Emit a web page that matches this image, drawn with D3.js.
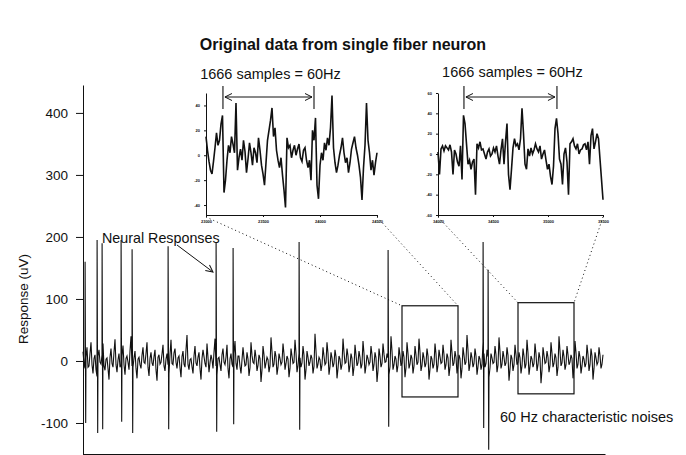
<!DOCTYPE html>
<html>
<head>
<meta charset="utf-8">
<script src="https://cdn.jsdelivr.net/npm/d3@7"></script>
<style>
body { margin: 0; background: #fff; }
text { font-family: "Liberation Sans", Arial, sans-serif; fill: #111; }
</style>
</head>
<body>
<script>

// background noise of the recording (uV): even samples ...
var noise = [
 15,-12,22,-8,30,-20,10,-25,18,-5,28,-15,5,-30,20,-10,35,-18,12,-6,
 25,-22,8,-14,40,-10,16,-28,6,-12,22,-4,30,-24,14,-8,18,-32,10,-2,
 26,-16,12,-20,34,-6,20,-12,8,-26,16,-10,42,-14,4,-20,24,-8,14,-30,
 18,-4,28,-18,10,-12,36,-22,6,-16,20,-6,26,-28,12,-10,32,-14,8,-20,
 22,-8,14,-24,30,-2,18,-16,10,-34,24,-12,6,-18,38,-10,16,-22,12,-6,
 28,-14,8,-26,20,-4,34,-18,12,-10,24,-30,16,-8,10,-20,44,-12,6,-16,
 22,-6,30,-22,14,-10,18,-28,8,-14,36,-4,20,-18,12,-24,26,-8,16,-12,
 32,-20,10,-6,24,-16,14,-34,20,-10,28,-2,12,-22,40,-14,8,-18,22,-8,
 16,-26,30,-12,10,-20,24,-6,36,-16,14,-10,20,-30,8,-12,28,-18,18,-4,
 26,-14,12,-24,34,-8,16,-20,10,-28,22,-6,42,-16,14,-10,20,-22,8,-14,
 30,-10,18,-26,12,-4,24,-18,38,-12,16,-8,22,-32,10,-16,26,-6,14,-20,
 20,-12,34,-22,8,-10,28,-16,14,-36,22,-4,16,-18,30,-10,12,-24,40,-8,
 18,-14,24,-6,10,-28,32,-12,16,-20,8,-10,26,-16,20,-30,14,-6,22,-12,10
];
// ... and odd samples
var noiseOdd = [
 -4,6,-10,12,-6,4,-14,8,-2,10,-8,3,-12,6,-4,14,-6,2,-10,8,
 -6,4,-2,16,-8,5,-12,3,-6,9,-2,12,-10,4,-3,7,-14,6,-5,11,
 -8,3,-6,10,-4,13,-2,5,-11,7,-5,18,-6,2,-9,8,-3,6,-12,4,
 7,-10,5,-3,2,14,-8,4,-6,10,-2,6,-12,3,-5,12,-4,8,-9,2,
 5,-6,3,-11,9,-4,6,-7,4,-14,10,-3,2,-8,15,-5,7,-10,4,-2,
 11,-4,3,-12,8,-2,13,-7,5,-3,9,-14,6,-2,4,-9,16,-5,2,-6,
 8,-3,12,-9,5,-4,7,-12,3,-6,14,-2,8,-7,4,-10,10,-3,6,-5,
 12,-8,4,-2,10,-6,5,-15,8,-4,11,-1,5,-9,16,-6,3,-7,9,-3,
 6,-11,12,-5,4,-8,10,-2,14,-7,5,-4,8,-13,3,-5,11,-7,7,-2,
 10,-6,5,-10,13,-3,6,-8,4,-12,9,-2,17,-6,5,-4,8,-9,3,-6,
 12,-4,7,-11,5,-2,10,-7,15,-5,6,-3,9,-13,4,-6,10,-2,5,-8,
 8,-5,13,-9,3,-4,11,-6,5,-15,9,-2,6,-7,12,-4,5,-10,16,-3,
 7,-6,10,-2,4,-11,13,-5,6,-8,3,-4,10,-6,8,-12,5,-2,9,-5
];

// neural spikes: sample position, positive peak, negative peak
var spikeAt   = [2, 14, 19, 38, 49, 85, 133, 150, 216, 305, 400, 405];
var spikeUp   = [160, 195, 190, 195, 180, 185, 192, 182, 192, 179, 192, 147];
var spikeDown = [-100, -116, -110, -98, -116, -110, -114, -102, -111, -106, -108, -143];

var yTicks = [-100, 0, 100, 200, 300, 400];

// zoomed windows in the main trace
var boxStart  = [319, 435];
var boxEnd    = [375, 491];
var boxTop    = [89, 94];
var boxBottom = [-58, -53];

// zoomed traces
var inset1Values = [15,4,-5,-12,-15,-5,6,18,8,12,25,32,-30,-20,-4,8,2,15,9,2,
 42,-12,-2,5,-4,12,3,-14,-3,10,2,-8,6,2,-6,14,4,-8,-15,-24,
 -6,12,20,28,38,15,22,4,-4,-10,-2,-16,-28,-42,14,6,8,-2,4,8,
 0,5,9,-2,-5,4,6,-4,-10,-4,-20,20,12,30,-24,-35,-8,2,-4,10,
 4,14,8,22,48,6,-6,-14,-8,0,6,14,2,-6,-2,-14,-6,5,10,15,
 6,0,-8,-18,-36,-10,8,42,12,2,-12,-4,-16,-6,2];
var inset2Values = [2,-20,5,8,3,8,6,4,9,2,-20,4,0,-8,-12,8,-25,38,30,10,
 -10,-6,-15,-8,-5,-40,10,6,12,4,5,0,-5,2,5,-2,0,6,2,8,
 -2,-10,4,15,-10,12,30,-20,-35,-15,6,15,8,10,4,15,45,20,-10,-15,
 5,-2,6,0,4,10,5,2,8,-5,0,4,-6,-15,-10,-22,-30,-12,25,35,
 20,-5,-10,-30,0,6,-8,-40,10,12,15,8,5,10,0,4,5,9,10,4,
 12,-10,18,25,5,12,20,15,-5,-25,-45];
var inset1Ticks = [-40, -20, 0, 20, 40];
var inset2Ticks = [-60, -40, -20, 0, 20, 40, 60];
var inset1XTicks = [23000, 23500, 24000, 24500];
var inset2XTicks = [34000, 34500, 35000, 35500];
// one 60 Hz period (1666 samples) marked in each inset, in inset sample index
var periodStart = [11.3, 17.3];
var periodEnd   = [72, 79.3];

var W = 686, H = 455;
var FONT = "\"Liberation Sans\", Arial, sans-serif";
var plain = function(d) { return String(d); };

var svg = d3.select("body").append("svg").attr("width", W).attr("height", H);

var defs = svg.append("defs");
defs.append("marker").attr("id", "open").attr("viewBox", "-8 -5 10 10")
  .attr("markerWidth", 10).attr("markerHeight", 10).attr("orient", "auto-start-reverse")
  .attr("markerUnits", "userSpaceOnUse")
  .append("path").attr("d", "M-7,-3.5L0,0L-7,3.5").attr("fill", "none")
  .attr("stroke", "#111").attr("stroke-width", 1);

// main scales
var x = d3.scaleLinear().domain([0, 522]).range([83, 605]);
var y = d3.scaleLinear().domain([-150, 445]).range([454, 85]);

svg.append("text").attr("x", 343).attr("y", 50).attr("text-anchor", "middle")
  .style("font-weight", "bold").style("font-size", "16px")
  .text("Original data from single fiber neuron");

var yAxis = svg.append("g").attr("transform", "translate(83,0)")
  .call(d3.axisLeft(y).tickValues(yTicks).tickFormat(plain).tickSize(7).tickSizeOuter(0).tickPadding(8));
yAxis.selectAll("text").style("font-size", "13.5px").style("font-family", FONT);
yAxis.selectAll("line,path").attr("stroke", "#111");

var xAxis = svg.append("g").attr("transform", "translate(0,454)")
  .call(d3.axisBottom(x).tickValues(d3.range(0, 523, 13)).tickSize(2).tickSizeOuter(0).tickFormat(""));
xAxis.selectAll("line,path").attr("stroke", "#111");

svg.append("text").attr("transform", "translate(28,299) rotate(-90)")
  .attr("text-anchor", "middle").style("font-size", "13.5px").text("Response (uV)");

// main trace
var pts = [];
noise.forEach(function(v, i) { pts.push({x: i * 2, y: v}); });
noiseOdd.forEach(function(v, i) { pts.push({x: i * 2 + 1, y: v}); });
spikeAt.forEach(function(s, k) {
  pts.push({x: s + 0.1, y: spikeUp[k]});
  pts.push({x: s + 0.7, y: spikeDown[k]});
});
pts.sort(function(a, b) { return a.x - b.x; });

svg.append("path").datum(pts)
  .attr("d", d3.line().x(function(d) { return x(d.x); }).y(function(d) { return y(d.y); }))
  .attr("fill", "none").attr("stroke", "#111").attr("stroke-width", 1.1);

// boxes
svg.selectAll(".zoombox").data(boxStart).enter().append("rect").attr("class", "zoombox")
  .attr("x", function(d) { return x(d); })
  .attr("y", function(d, i) { return y(boxTop[i]); })
  .attr("width", function(d, i) { return x(boxEnd[i]) - x(d); })
  .attr("height", function(d, i) { return y(boxBottom[i]) - y(boxTop[i]); })
  .attr("fill", "none").attr("stroke", "#111").attr("stroke-width", 1.2);

// insets
var insets = [
  {left: 206, right: 377, top: 93, bottom: 215, dom: [-48, 50], vals: inset1Values, ticks: inset1Ticks, xt: inset1XTicks, ly: 79},
  {left: 438, right: 603, top: 93, bottom: 215, dom: [-60, 60], vals: inset2Values, ticks: inset2Ticks, xt: inset2XTicks, ly: 77}
];

insets.forEach(function(ins, k) {
  var ix = d3.scaleLinear().domain([0, ins.vals.length - 1]).range([ins.left, ins.right]);
  var iy = d3.scaleLinear().domain(ins.dom).range([ins.bottom, ins.top]);
  var lx = d3.scaleLinear().domain([ins.xt[0], ins.xt[ins.xt.length - 1]]).range([ins.left, ins.right]);

  var ga = svg.append("g").attr("transform", "translate(" + ins.left + ",0)")
    .call(d3.axisLeft(iy).tickValues(ins.ticks).tickFormat(plain).tickSize(2).tickSizeOuter(0).tickPadding(4));
  var gb = svg.append("g").attr("transform", "translate(0," + ins.bottom + ")")
    .call(d3.axisBottom(lx).tickValues(ins.xt).tickFormat(plain).tickSize(2).tickSizeOuter(0).tickPadding(3));
  [ga, gb].forEach(function(g) {
    g.selectAll("text").style("font-size", "4px").style("font-weight", "bold").style("font-family", FONT);
    g.selectAll("line,path").attr("stroke", "#111");
  });

  svg.append("path").datum(ins.vals)
    .attr("d", d3.line().x(function(d, i) { return ix(i); }).y(function(d) { return iy(d); }))
    .attr("fill", "none").attr("stroke", "#111").attr("stroke-width", 1.6);

  // period markers
  [periodStart[k], periodEnd[k]].forEach(function(p) {
    svg.append("line").attr("x1", ix(p)).attr("x2", ix(p))
      .attr("y1", ins.top - 7).attr("y2", ins.top + 16).attr("stroke", "#111").attr("stroke-width", 1.1);
  });
  svg.append("line").attr("x1", ix(periodStart[k]) + 2).attr("x2", ix(periodEnd[k]) - 2)
    .attr("y1", ins.top + 4).attr("y2", ins.top + 4).attr("stroke", "#111").attr("stroke-width", 1)
    .attr("marker-start", "url(#open)").attr("marker-end", "url(#open)");
  svg.append("text").attr("x", (ix(periodStart[k]) + ix(periodEnd[k])) / 2 + 2).attr("y", ins.ly)
    .attr("text-anchor", "middle").style("font-size", "14.5px").text("1666 samples = 60Hz");

  // dotted connectors to the box
  [[ins.left, boxStart[k]], [ins.right, boxEnd[k]]].forEach(function(c) {
    svg.append("line").attr("x1", c[0]).attr("y1", ins.bottom + 2)
      .attr("x2", x(c[1])).attr("y2", y(boxTop[k]))
      .attr("stroke", "#111").attr("stroke-width", 1).attr("stroke-dasharray", "1,3");
  });
});

// annotations
svg.append("text").attr("x", 102).attr("y", 243).style("font-size", "14.3px").text("Neural Responses");
svg.append("line").attr("x1", 177).attr("y1", 245).attr("x2", 213).attr("y2", 272)
  .attr("stroke", "#111").attr("stroke-width", 1).attr("marker-end", "url(#open)");
svg.append("text").attr("x", 500).attr("y", 422).style("font-size", "14.5px").text("60 Hz characteristic noises");

</script>
</body>
</html>
